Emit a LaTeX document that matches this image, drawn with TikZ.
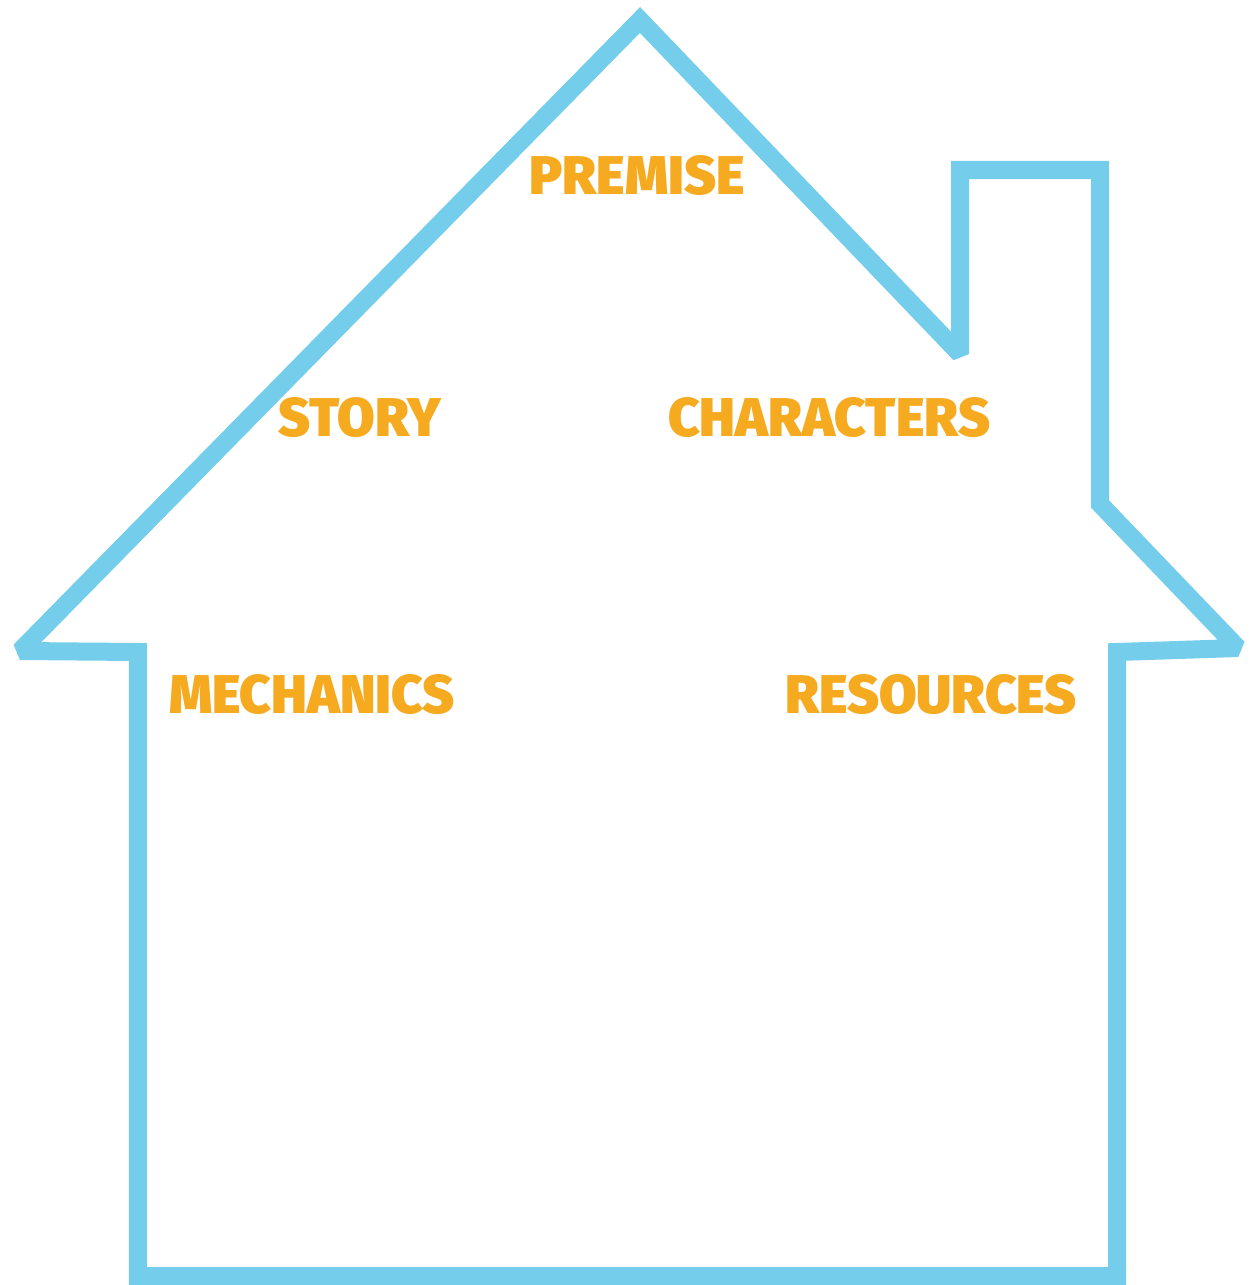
\documentclass[tikz,border=0pt]{standalone}
\usepackage{fontspec}
\newfontfamily\headfont{Fira Sans Black}
\usepackage{tikz}
\definecolor{houseblue}{RGB}{115,205,235}
\definecolor{headorange}{RGB}{245,170,32}

\begin{document}
\begin{tikzpicture}[
		x=0.01cm, y=-0.01cm,
		outline/.style={
			draw=houseblue,
			line width=0.18cm,
			line join=miter,
			miter limit=2
		},
		heading/.style={
			text=headorange,
			font=\headfont\fontsize{15.5}{15.5}\selectfont,
			inner sep=0pt
		}
		]
		
		\useasboundingbox (0,0) rectangle (1251,1285);
		
		% House outline
		\draw[outline] (640,20) -- (960,354) -- (960,170) -- (1100,170) -- (1100,504)
			-- (1238,648) -- (1117,652) -- (1117,1276) -- (138,1276) -- (138,652)
			-- (20,651) -- cycle;
		
		% Labels
		\node[heading] at (637,176) (premise) {PREMISE};
		\node[heading] at (360,418) (story) {STORY};
		\node[heading] at (829,418) (characters) {CHARACTERS};
		\node[heading] at (312,695) (mechanics) {MECHANICS};
		\node[heading] at (931,695) (resources) {RESOURCES};
		
	\end{tikzpicture}
\end{document}
